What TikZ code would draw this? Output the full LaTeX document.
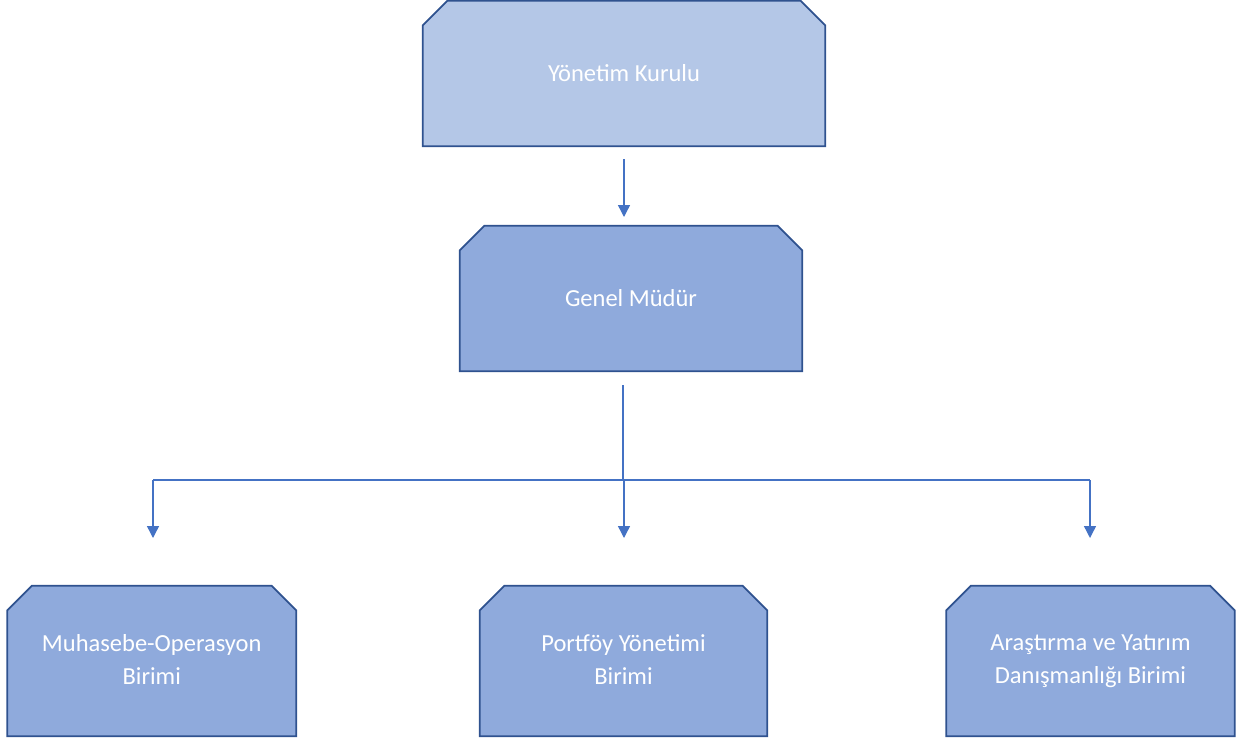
\documentclass[tikz,border=0pt]{standalone}
\usepackage{fontspec}
\setmainfont{Carlito}
\usetikzlibrary{arrows.meta,backgrounds}
\definecolor{boxlight}{HTML}{B4C7E7}
\definecolor{boxmid}{HTML}{8FAADC}
\definecolor{boxline}{HTML}{2F528F}
\definecolor{arrline}{HTML}{4472C4}
\tikzset{
  orgbox/.style={rectangle, text=white, inner sep=0pt,
    font=\fontsize{24.5}{33}\selectfont, align=center},
  boxedge/.style={draw=boxline, line width=1.8pt, line join=miter},
  arr/.style={draw=arrline, line width=1.4pt, -{Triangle[width=12pt,length=12pt]}},
  bus/.style={draw=arrline, line width=1.4pt}
}
\newcommand{\cutshape}[2]{%
  \begin{pgfonlayer}{background}
  \path[boxedge, fill=#2] (#1.south west) -- ([yshift=-24.5pt]#1.north west) -- ([xshift=24.5pt]#1.north west)
     -- ([xshift=-24.5pt]#1.north east) -- ([yshift=-24.5pt]#1.north east) -- (#1.south east) -- cycle;
  \end{pgfonlayer}}
\begin{document}
\begin{tikzpicture}[x=1pt,y=1pt]
\useasboundingbox (0,0) rectangle (1251,-742);
\node[orgbox, minimum width=402pt, minimum height=145pt] (yk) at (624,-73.5) {Yönetim Kurulu};
\node[orgbox, minimum width=342pt, minimum height=145pt] (gm) at (631,-298.5) {Genel Müdür};
\node[orgbox, minimum width=288.5pt, minimum height=150pt] (mo) at (151.75,-661) {Muhasebe-Operasyon\\Birimi\\[-40pt]\strut};
\node[orgbox, minimum width=287pt, minimum height=150pt] (py) at (623.5,-661) {Portföy Yönetimi\\Birimi\\[-40pt]\strut};
\node[orgbox, minimum width=288pt, minimum height=150pt] (ay) at (1090.5,-661) {Araştırma ve Yatırım\\Danışmanlığı Birimi\\[-40pt]\strut};
\cutshape{yk}{boxlight}
\cutshape{gm}{boxmid}
\cutshape{mo}{boxmid}
\cutshape{py}{boxmid}
\cutshape{ay}{boxmid}
\coordinate (a1) at (624,-159);
\coordinate (a1e) at (624,-217);
\coordinate (g0) at (623,-385);
\coordinate (hub) at (623,-480);
\coordinate (hl) at (153,-480);
\coordinate (hm) at (624,-480);
\coordinate (hr) at (1090,-480);
\draw[arr] (a1) -- (a1e);
\draw[bus] (g0) -- (hub);
\draw[bus] (hl) -- (hr);
\draw[arr] (hl) -- (hl |- 0,-538);
\draw[arr] (hm) -- (hm |- 0,-538);
\draw[arr] (hr) -- (hr |- 0,-538);
\end{tikzpicture}
\end{document}
